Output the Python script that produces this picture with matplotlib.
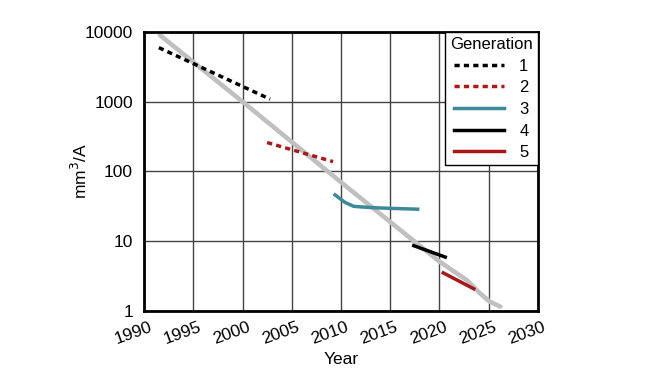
import numpy as np
import matplotlib.pyplot as plt
import matplotlib.transforms as mtransforms

plt.rcParams['font.family'] = ['Liberation Sans', 'DejaVu Sans']

# trend line (grey)
trend_years = [1991.6, 2000, 2010, 2020, 2022.8, 2024.1, 2025.1, 2026.2]
trend_vals = [9000, 1000, 70, 5.1, 2.75, 1.8, 1.36, 1.15]

# generations
gen1_years = [1991.5, 2002.8]
gen1_vals = [5950, 1085]
gen2_years = [2002.5, 2009.2]
gen2_vals = [259, 138]
gen3_years = [2009.4, 2010.4, 2011.3, 2013, 2015, 2017.8]
gen3_vals = [46, 36, 31.5, 30.3, 29.5, 28.7]
gen4_years = [2017.4, 2020.6]
gen4_vals = [8.6, 5.9]
gen5_years = [2020.4, 2023.5]
gen5_vals = [3.5, 2.07]

fig = plt.figure(figsize=(6.55, 3.8), dpi=100)
ax = fig.add_axes([0.22, 0.182, 0.601, 0.734])

ax.plot(trend_years, trend_vals, color='#c0c0c0', lw=3.3, solid_capstyle='round', zorder=2)
ax.plot(gen1_years, gen1_vals, color='black', lw=2.5, ls=(0, (1.5, 1.2)), label='1', zorder=3)
ax.plot(gen2_years, gen2_vals, color='#b01818', lw=2.5, ls=(0, (1.5, 1.2)), label='2', zorder=3)
ax.plot(gen3_years, gen3_vals, color='#3a8a99', lw=2.5, label='3', zorder=3)
ax.plot(gen4_years, gen4_vals, color='black', lw=2.5, label='4', zorder=3)
ax.plot(gen5_years, gen5_vals, color='#a81818', lw=2.5, label='5', zorder=3)

ax.set_yscale('log')
ax.set_xlim(1990, 2030)
ax.set_ylim(1, 10000)
ax.set_xticks(range(1990, 2031, 5))
ax.set_yticks([1, 10, 100, 1000, 10000])
ax.set_yticklabels(['1', '10', '100', '1000', '10000'])
ax.minorticks_off()
ax.tick_params(length=0, labelsize=12.5)
ax.tick_params(axis='x', pad=6)
ax.tick_params(axis='y', pad=8)
shift = mtransforms.ScaledTranslation(-0.11, 0, fig.dpi_scale_trans)
for lab in ax.get_xticklabels():
    lab.set_rotation(20)
    lab.set_transform(lab.get_transform() + shift)
ax.grid(True, color='#444444', lw=1)
ax.set_axisbelow(True)
for s in ax.spines.values():
    s.set_linewidth(2)

ax.set_xlabel('Year', fontsize=12.5, labelpad=4)
ax.set_ylabel('mm$^3$/A', fontsize=12.5, labelpad=-4)

leg = ax.legend(title='Generation', loc='upper right', fontsize=12, title_fontsize=12,
                fancybox=False, framealpha=1, edgecolor='black', borderaxespad=0,
                handlelength=3.0, labelspacing=0.4, borderpad=0.3, handletextpad=0.9)
leg.get_frame().set_linewidth(1)

fig.savefig('out.png', dpi=100)
